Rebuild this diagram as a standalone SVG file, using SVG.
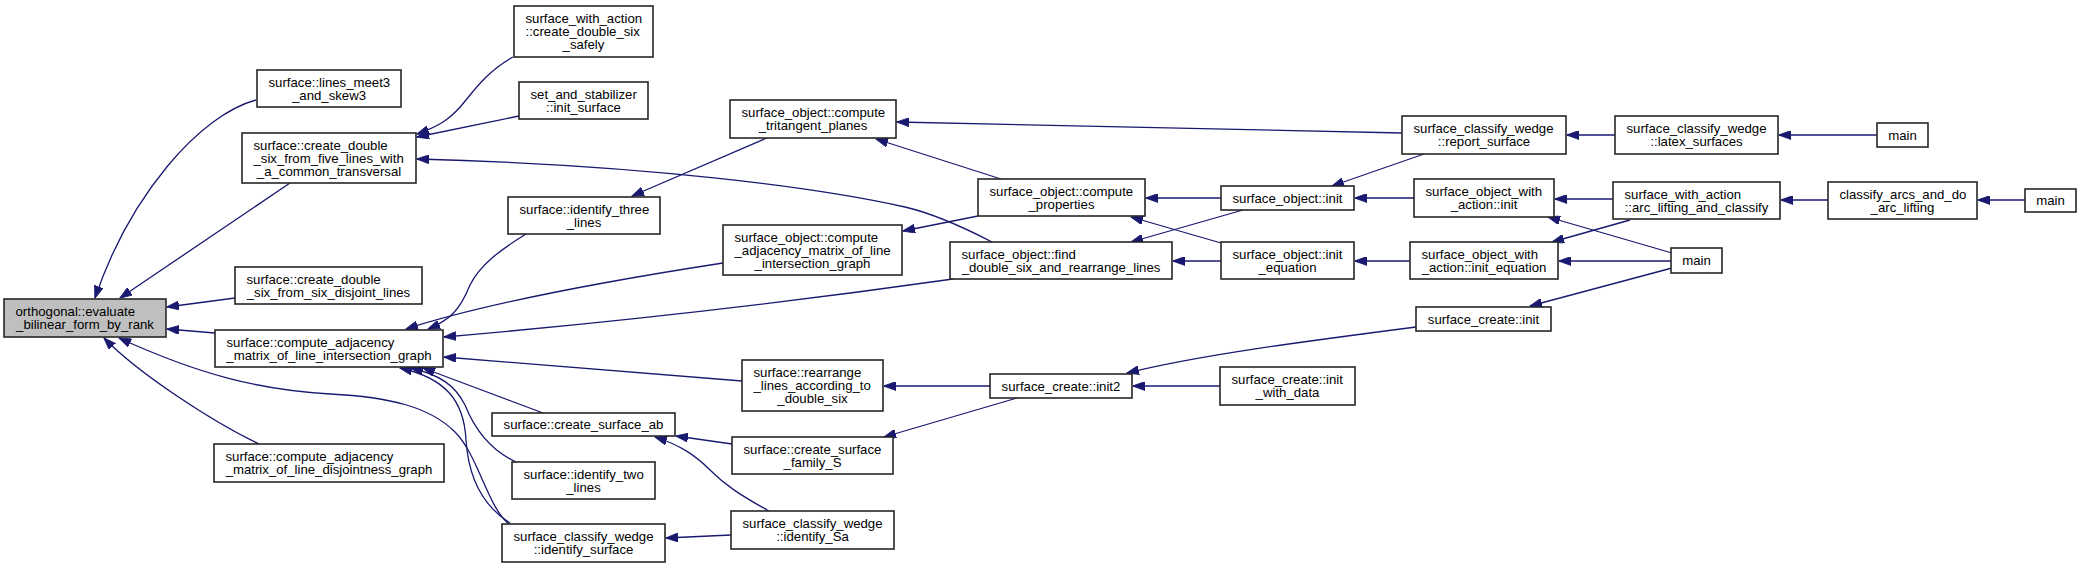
<svg xmlns="http://www.w3.org/2000/svg" width="2081" height="568" viewBox="0 0 2081 568">
<style>
.n rect{fill:#ffffff;stroke:#262626;stroke-width:1.6}
.n.root rect{fill:#bfbfbf}
.n text{font-family:"Liberation Sans",Arial,Helvetica,sans-serif;font-size:13.2px;fill:#000000}
.n text.c{text-anchor:middle}
#edges path{fill:none;stroke:#191970;stroke-width:1.3;marker-end:url(#arr)}
</style>
<defs>
<marker id="arr" viewBox="0 0 12.5 9" refX="12" refY="4.5" markerWidth="12.5" markerHeight="9" markerUnits="userSpaceOnUse" orient="auto">
<path d="M0,0 L12.5,4.5 L0,9 z" fill="#191970" stroke="#191970" stroke-width="0.8"/>
</marker>
</defs>
<rect width="2081" height="568" fill="#ffffff"/>
<g id="edges">
<path d="M256,100 C200,115 130,195 95,298"/>
<path d="M290,183 L120,298"/>
<path d="M235,298 L167,307"/>
<path d="M215,333 L167,329"/>
<path d="M259,444 C215,423 140,375 104,338"/>
<path d="M509,524 C488,508 478,455 455,432 C430,407 390,397 330,394 C260,390 200,375 119,338"/>
<path d="M513,57 C490,70 478,85 466,100 C452,118 440,126 417,134"/>
<path d="M519,116 L417,137"/>
<path d="M992,242 C965,228 935,214 905,207 C820,188 650,165 417,159"/>
<path d="M767,138 L632,196"/>
<path d="M526,234 C500,250 480,265 470,285 C460,310 450,320 428,329"/>
<path d="M723,263 C600,282 480,305 406,329"/>
<path d="M953,279 Q700,315 444,337"/>
<path d="M742,381 C650,373 550,365 444,357"/>
<path d="M543,413 L423,368"/>
<path d="M516,462 C490,450 475,430 465,405 C455,385 440,375 411,368"/>
<path d="M510,523 C478,503 468,470 466,440 C464,400 445,378 400,368"/>
<path d="M1402,133 L897,122"/>
<path d="M1001,179 L876,139"/>
<path d="M978,216 L903,231"/>
<path d="M1221,198 L1146,198"/>
<path d="M1221,243 L1131,217"/>
<path d="M1243,210 L1131,242"/>
<path d="M1221,261 L1173,261"/>
<path d="M1424,154 L1332,186"/>
<path d="M1414,198 L1355,198"/>
<path d="M1410,261 L1355,261"/>
<path d="M1615,135 L1567,135"/>
<path d="M1877,135 L1779,135"/>
<path d="M1613,199 L1555,199"/>
<path d="M1672,253 L1548,217"/>
<path d="M1828,200 L1781,200"/>
<path d="M2025,200 L1978,200"/>
<path d="M1630,220 L1552,242"/>
<path d="M1671,261 L1559,261"/>
<path d="M1672,268 L1530,306"/>
<path d="M1416,327 C1300,342 1200,355 1127,373"/>
<path d="M1220,386 L1133,386"/>
<path d="M990,386 L884,386"/>
<path d="M1017,398 L884,437"/>
<path d="M732,444 L676,436"/>
<path d="M769,511 C740,495 725,485 710,470 C695,455 680,445 655,437"/>
<path d="M731,535 L666,538"/>
</g>
<g id="n_eval" class="n root"><rect x="4" y="299" width="162" height="38"/><text x="15.5" y="316">orthogonal::evaluate</text><text class="c" x="85" y="329">_bilinear_form_by_rank</text></g>
<g id="n_meet3" class="n"><rect x="257" y="70" width="144" height="37"/><text x="268.5" y="86.5">surface::lines_meet3</text><text class="c" x="329" y="99.5">_and_skew3</text></g>
<g id="n_five" class="n"><rect x="242" y="133" width="174" height="50"/><text x="253.5" y="149.5">surface::create_double</text><text x="253.5" y="162.5">_six_from_five_lines_with</text><text class="c" x="329" y="175.5">_a_common_transversal</text></g>
<g id="n_safely" class="n"><rect x="514" y="6" width="139" height="51"/><text x="525.5" y="23">surface_with_action</text><text x="525.5" y="36">::create_double_six</text><text class="c" x="583.5" y="49">_safely</text></g>
<g id="n_stab" class="n"><rect x="519" y="82" width="129" height="37"/><text x="530.5" y="98.5">set_and_stabilizer</text><text class="c" x="583.5" y="111.5">::init_surface</text></g>
<g id="n_three" class="n"><rect x="508" y="197" width="152" height="37"/><text x="519.5" y="213.5">surface::identify_three</text><text class="c" x="584" y="226.5">_lines</text></g>
<g id="n_sixdisj" class="n"><rect x="235" y="267" width="187" height="37"/><text x="246.5" y="283.5">surface::create_double</text><text class="c" x="328.5" y="296.5">_six_from_six_disjoint_lines</text></g>
<g id="n_adjint" class="n"><rect x="215" y="330" width="228" height="37"/><text x="226.5" y="346.5">surface::compute_adjacency</text><text class="c" x="329" y="359.5">_matrix_of_line_intersection_graph</text></g>
<g id="n_adjdis" class="n"><rect x="214" y="444" width="230" height="38"/><text x="225.5" y="461">surface::compute_adjacency</text><text class="c" x="329" y="474">_matrix_of_line_disjointness_graph</text></g>
<g id="n_csab" class="n"><rect x="492" y="413" width="183" height="23"/><text class="c" x="583.5" y="429">surface::create_surface_ab</text></g>
<g id="n_two" class="n"><rect x="512" y="462" width="143" height="37"/><text x="523.5" y="478.5">surface::identify_two</text><text class="c" x="583.5" y="491.5">_lines</text></g>
<g id="n_idsurf" class="n"><rect x="502" y="524" width="163" height="38"/><text x="513.5" y="541">surface_classify_wedge</text><text class="c" x="583.5" y="554">::identify_surface</text></g>
<g id="n_trit" class="n"><rect x="730" y="100" width="166" height="38"/><text x="741.5" y="117">surface_object::compute</text><text class="c" x="813" y="130">_tritangent_planes</text></g>
<g id="n_soadj" class="n"><rect x="723" y="225" width="179" height="50"/><text x="734.5" y="241.5">surface_object::compute</text><text x="734.5" y="254.5">_adjacency_matrix_of_line</text><text class="c" x="812.5" y="267.5">_intersection_graph</text></g>
<g id="n_props" class="n"><rect x="978" y="179" width="167" height="37"/><text x="989.5" y="195.5">surface_object::compute</text><text class="c" x="1061.5" y="208.5">_properties</text></g>
<g id="n_find" class="n"><rect x="950" y="242" width="222" height="37"/><text x="961.5" y="258.5">surface_object::find</text><text class="c" x="1061" y="271.5">_double_six_and_rearrange_lines</text></g>
<g id="n_soinit" class="n"><rect x="1221" y="186" width="133" height="24"/><text class="c" x="1287.5" y="202.5">surface_object::init</text></g>
<g id="n_soeq" class="n"><rect x="1221" y="242" width="133" height="37"/><text x="1232.5" y="258.5">surface_object::init</text><text class="c" x="1287.5" y="271.5">_equation</text></g>
<g id="n_rearr" class="n"><rect x="742" y="360" width="141" height="51"/><text x="753.5" y="377">surface::rearrange</text><text x="753.5" y="390">_lines_according_to</text><text class="c" x="812.5" y="403">_double_six</text></g>
<g id="n_init2" class="n"><rect x="990" y="374" width="142" height="24"/><text class="c" x="1061" y="390.5">surface_create::init2</text></g>
<g id="n_withdata" class="n"><rect x="1220" y="367" width="135" height="38"/><text x="1231.5" y="384">surface_create::init</text><text class="c" x="1287.5" y="397">_with_data</text></g>
<g id="n_family" class="n"><rect x="732" y="437" width="161" height="37"/><text x="743.5" y="453.5">surface::create_surface</text><text class="c" x="812.5" y="466.5">_family_S</text></g>
<g id="n_Sa" class="n"><rect x="731" y="511" width="163" height="38"/><text x="742.5" y="528">surface_classify_wedge</text><text class="c" x="812.5" y="541">::identify_Sa</text></g>
<g id="n_report" class="n"><rect x="1402" y="116" width="164" height="38"/><text x="1413.5" y="133">surface_classify_wedge</text><text class="c" x="1484" y="146">::report_surface</text></g>
<g id="n_latex" class="n"><rect x="1615" y="116" width="163" height="38"/><text x="1626.5" y="133">surface_classify_wedge</text><text class="c" x="1696.5" y="146">::latex_surfaces</text></g>
<g id="n_main1" class="n"><rect x="1877" y="123" width="51" height="24"/><text class="c" x="1902.5" y="139.5">main</text></g>
<g id="n_sowinit" class="n"><rect x="1414" y="179" width="140" height="38"/><text x="1425.5" y="196">surface_object_with</text><text class="c" x="1484" y="209">_action::init</text></g>
<g id="n_arc" class="n"><rect x="1613" y="182" width="167" height="37"/><text x="1624.5" y="198.5">surface_with_action</text><text class="c" x="1696.5" y="211.5">::arc_lifting_and_classify</text></g>
<g id="n_classify" class="n"><rect x="1828" y="182" width="149" height="37"/><text x="1839.5" y="198.5">classify_arcs_and_do</text><text class="c" x="1902.5" y="211.5">_arc_lifting</text></g>
<g id="n_main2" class="n"><rect x="2025" y="189" width="51" height="23"/><text class="c" x="2050.5" y="205">main</text></g>
<g id="n_soweq" class="n"><rect x="1410" y="242" width="148" height="37"/><text x="1421.5" y="258.5">surface_object_with</text><text class="c" x="1484" y="271.5">_action::init_equation</text></g>
<g id="n_main3" class="n"><rect x="1671" y="248" width="51" height="25"/><text class="c" x="1696.5" y="265">main</text></g>
<g id="n_screate" class="n"><rect x="1416" y="307" width="135" height="24"/><text class="c" x="1483.5" y="323.5">surface_create::init</text></g>
</svg>
